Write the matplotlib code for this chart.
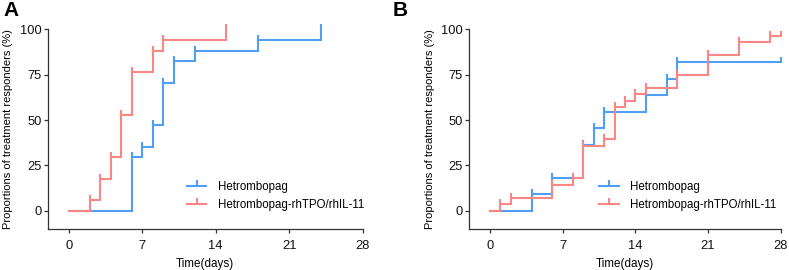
import matplotlib
matplotlib.use("Agg")
import matplotlib.pyplot as plt
from matplotlib.lines import Line2D
import numpy as np

plt.rcParams['font.family'] = ['Liberation Sans', 'DejaVu Sans']

# panel A: response times (days) and cumulative proportions (%)
a_hetro_days = [0, 6, 7, 8, 9, 10, 12, 18, 24]
a_hetro_pct = [0, 29.4, 35.3, 47.1, 70.6, 82.4, 88.2, 94.1, 100]
a_combo_days = [0, 2, 3, 4, 5, 6, 8, 9, 15]
a_combo_pct = [0, 5.9, 17.6, 29.4, 52.9, 76.5, 88.2, 94.1, 100]

# panel B
b_hetro_days = [0, 4, 6, 9, 10, 11, 15, 17, 18, 28]
b_hetro_pct = [0, 9.1, 18.2, 36.4, 45.5, 54.5, 63.6, 72.7, 81.8, 81.8]
b_combo_days = [0, 1, 2, 6, 8, 9, 11, 12, 13, 14, 15, 18, 21, 24, 27, 28]
b_combo_pct = [0, 3.6, 7.1, 14.3, 17.9, 35.7, 39.3, 57.1, 60.7, 64.3, 67.9,
               75.0, 85.7, 92.9, 96.4, 96.4]

labels = ['Hetrombopag', 'Hetrombopag-rhTPO/rhIL-11']
blue = '#4f9ef8'
red = '#fa8686'
tick_h = 2.2  # height of the small event tick (%)

fig = plt.figure(figsize=(7.89, 2.70), dpi=100)
ax_a = fig.add_axes([0.0605, 0.152, 0.399, 0.7395])
ax_b = fig.add_axes([0.5948, 0.152, 0.3947, 0.7395])


def draw_curve(ax, days, pct, color):
    ax.step(days, pct, where='post', color=color, lw=1.5, clip_on=False,
            solid_joinstyle='miter')
    for d, p in zip(days[1:], pct[1:]):
        ax.plot([d, d], [p, p + tick_h], color=color, lw=1.5, clip_on=False)


def style(ax, leg_x):
    ax.set_xlim(-2, 28)
    ax.set_ylim(-10, 100)
    ax.set_xticks([0, 7, 14, 21, 28])
    ax.set_yticks([0, 25, 50, 75, 100])
    for s in ['top', 'right']:
        ax.spines[s].set_visible(False)
    for s in ['left', 'bottom']:
        ax.spines[s].set_color('#333333')
        ax.spines[s].set_linewidth(0.9)
    ax.tick_params(length=3, width=0.9, color='#333333', labelsize=9.3,
                   pad=1.5, labelcolor='#111111')
    ax.tick_params(axis='x', pad=5)
    ax.set_xlabel('Time(days)', fontsize=8.4, labelpad=4)
    ax.set_ylabel('Proportions of treatment responders (%)', fontsize=8)
    ax.yaxis.set_label_coords(-0.11, 0.5)
    handles = [Line2D([0], [0], color=blue, lw=1.5, marker=2, markersize=4,
                      markeredgewidth=1.5),
               Line2D([0], [0], color=red, lw=1.5, marker=2, markersize=4,
                      markeredgewidth=1.5)]
    ax.legend(handles, labels, loc='upper left', bbox_to_anchor=(leg_x, 0.24),
              frameon=False, fontsize=8.3, handlelength=1.7, handletextpad=1.0,
              borderpad=0, borderaxespad=0, labelspacing=0.5, numpoints=1)


draw_curve(ax_a, a_hetro_days, a_hetro_pct, blue)
draw_curve(ax_a, a_combo_days, a_combo_pct, red)
style(ax_a, 0.442)

draw_curve(ax_b, b_hetro_days, b_hetro_pct, blue)
draw_curve(ax_b, b_combo_days, b_combo_pct, red)
style(ax_b, 0.4165)

fig.text(3 / 789, 1 - 1 / 270, 'A', fontsize=15, fontweight='bold',
         ha='left', va='top')
fig.text(393 / 789, 1 - 1 / 270, 'B', fontsize=15, fontweight='bold',
         ha='left', va='top')

fig.savefig('out.png', dpi=100)
